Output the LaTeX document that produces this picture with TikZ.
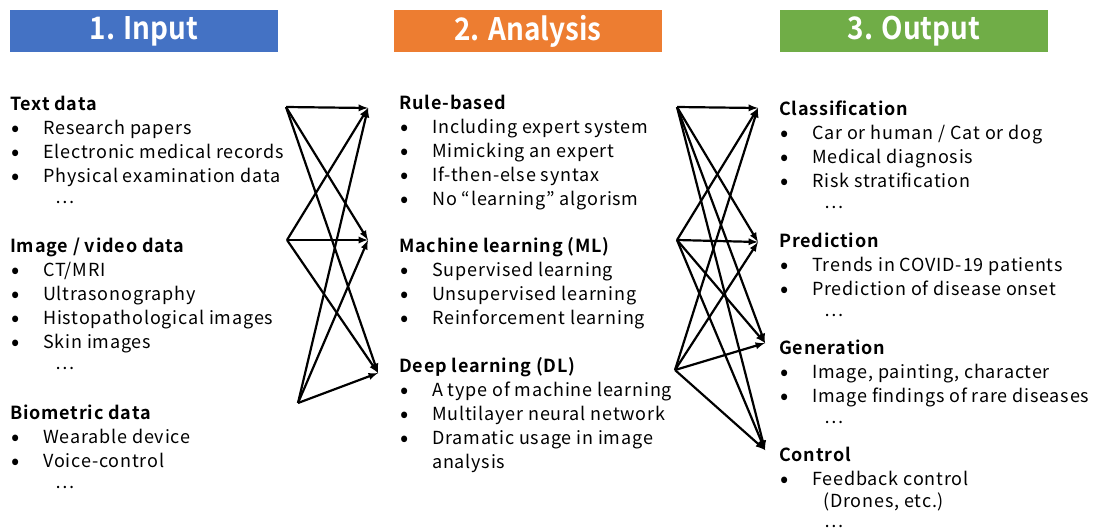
\documentclass[tikz,border=0pt]{standalone}
\usepackage{fontspec}
\setmainfont{Noto Sans CJK JP}[BoldFont={Noto Sans CJK JP Bold},LetterSpace=4.5]
\newfontfamily\titlefont{Noto Sans CJK JP Bold}[FakeStretch=0.9]
\usetikzlibrary{arrows}
\definecolor{inblue}{HTML}{4472C4}
\definecolor{anorange}{HTML}{ED7D31}
\definecolor{outgreen}{HTML}{70AD47}
\tikzstyle{header}=[minimum width=268pt,minimum height=42pt,inner sep=0pt,text=white,font=\titlefont\fontsize{31}{31}\selectfont]
\tikzstyle{block}=[anchor=base west,inner sep=0pt,font=\fontsize{18}{24}\selectfont]
\tikzstyle{edge} = [draw,line width=2.2pt,-latex]
\newcommand{\itm}[1]{\makebox[33pt][l]{\hspace{1pt}\raisebox{-0.12em}{\scalebox{1.35}{\textbullet}}}#1}
\newcommand{\more}{\hspace*{45pt}…}
\newcommand{\sect}[1]{\begin{tabular}[t]{@{}l@{}}#1\end{tabular}}

\begin{document}
\begin{tikzpicture}[x=1pt,y=-1pt]
    \useasboundingbox[fill=white] (0,0) rectangle (1103,528);
    % Draw the three headers
    \node[header,fill=inblue] (input) at (144,31) {1. Input};
    \node[header,fill=anorange] (analysis) at (528,31) {2. Analysis};
    \node[header,fill=outgreen] (output) at (914,31) {3. Output};

    % Input column
    \node[block] (textdata) at (10,110) {\sect{\textbf{Text data}\\
        \itm{Research papers}\\ \itm{Electronic medical records}\\
        \itm{Physical examination data}\\[-3pt] \more}};
    \node[block] (imagedata) at (10,252) {\sect{\textbf{Image / video data}\\
        \itm{CT/MRI}\\ \itm{Ultrasonography}\\
        \itm{Histopathological images}\\ \itm{Skin images}\\[-3pt] \more}};
    \node[block] (biodata) at (10,419) {\sect{\textbf{Biometric data}\\
        \itm{Wearable device}\\ \itm{Voice-control}\\[-3pt] \more}};

    % Analysis column
    \node[block] (rulebased) at (399,109) {\sect{\textbf{Rule-based}\\
        \itm{Including expert system}\\ \itm{Mimicking an expert}\\
        \itm{If-then-else syntax}\\ \itm{No “learning” algorism}}};
    \node[block] (ml) at (399,252) {\sect{\textbf{Machine learning (ML)}\\
        \itm{Supervised learning}\\ \itm{Unsupervised learning}\\
        \itm{Reinforcement learning}}};
    \node[block] (dl) at (399,372) {\sect{\textbf{Deep learning (DL)}\\
        \itm{A type of machine learning}\\ \itm{Multilayer neural network}\\
        \itm{Dramatic usage in image}\\ \hspace*{33pt}analysis}};

    % Output column
    \node[block] (classif) at (779,115) {\sect{\textbf{Classification}\\
        \itm{Car or human / Cat or dog}\\ \itm{Medical diagnosis}\\
        \itm{Risk stratification}\\[-3pt] \more}};
    \node[block] (predict) at (779,247) {\sect{\textbf{Prediction}\\
        \itm{Trends in COVID-19 patients}\\
        \itm{Prediction of disease onset}\\[-3pt] \more}};
    \node[block] (generat) at (779,354) {\sect{\textbf{Generation}\\
        \itm{Image, painting, character}\\
        \itm{Image findings of rare diseases}\\[-3pt] \more}};
    \node[block] (control) at (779,461) {\sect{\textbf{Control}\\
        \itm{Feedback control}\\[-2pt] \hspace*{44pt}(Drones, etc.)\\[-4pt] \more}};

    % End points of the connectors
    \foreach \x/\y/\name in {286/107/in1, 287/240/in2, 298/403/in3,
        368/108/an1, 368/240/an2, 378/373/an3}
        \coordinate (\name) at (\x,\y);
    \foreach \x/\y/\name in {677/107/ao1, 677/240/ao2, 675/370/ao3,
        758/108/out1, 758/242/out2, 765/343/out3, 765/450/out4}
        \coordinate (\name) at (\x,\y);

    % Connect every input to every analysis, every analysis to every output
    \foreach \source in {in1,in2,in3}
        \foreach \dest in {an1,an2,an3}
            \path[edge] (\source) -- (\dest);
    \foreach \source in {ao1,ao2,ao3}
        \foreach \dest in {out1,out2,out3,out4}
            \path[edge] (\source) -- (\dest);
\end{tikzpicture}
\end{document}
